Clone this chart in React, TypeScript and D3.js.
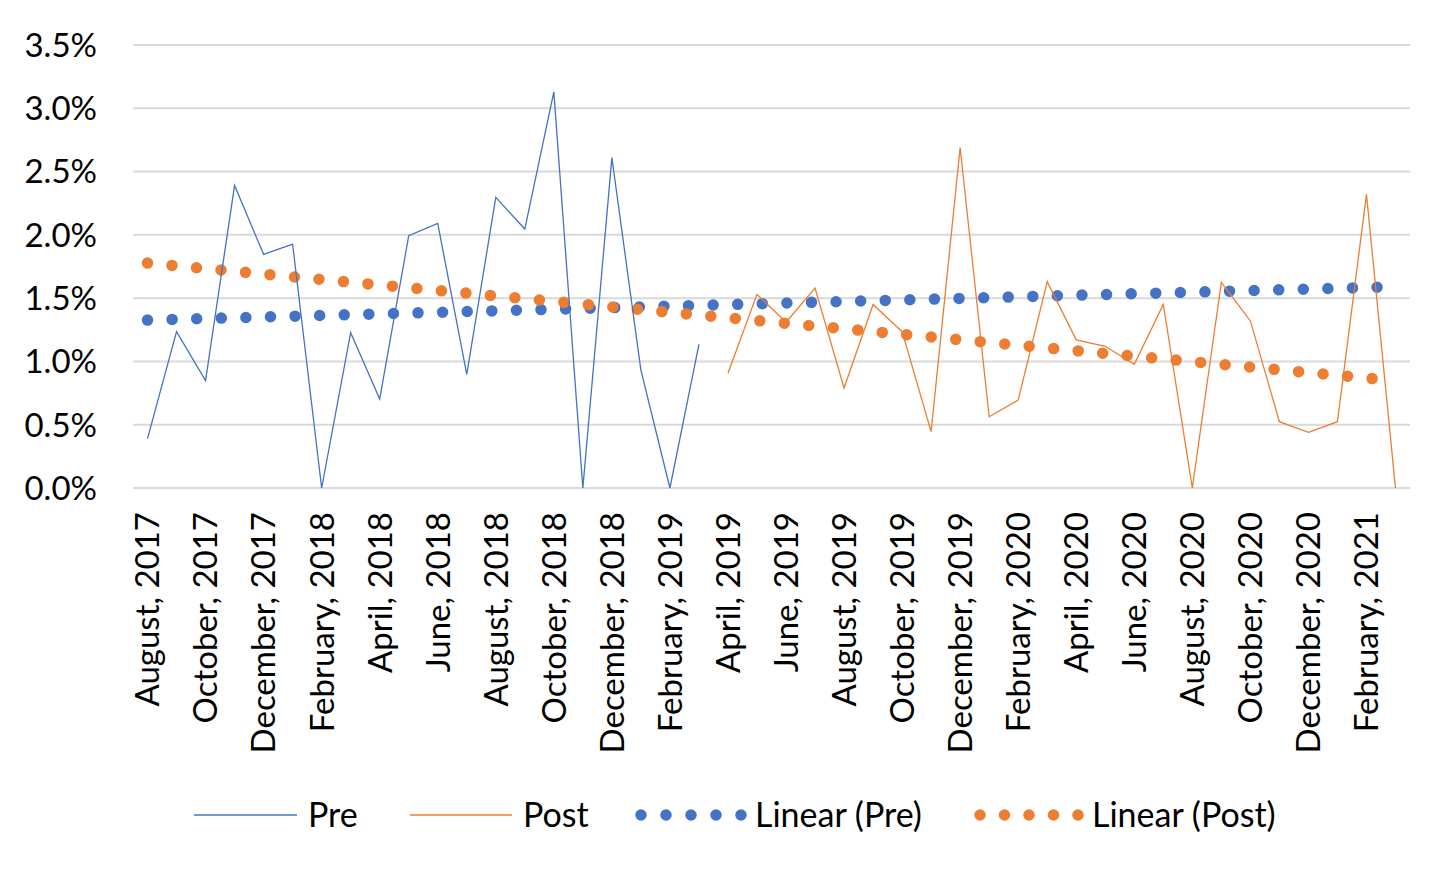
import { useEffect, useRef } from "react";
import * as d3 from "d3";

const months = [
  "August, 2017", "September, 2017", "October, 2017", "November, 2017", "December, 2017",
  "January, 2018", "February, 2018", "March, 2018", "April, 2018", "May, 2018", "June, 2018",
  "July, 2018", "August, 2018", "September, 2018", "October, 2018", "November, 2018",
  "December, 2018", "January, 2019", "February, 2019", "March, 2019", "April, 2019",
  "May, 2019", "June, 2019", "July, 2019", "August, 2019", "September, 2019", "October, 2019",
  "November, 2019", "December, 2019", "January, 2020", "February, 2020", "March, 2020",
  "April, 2020", "May, 2020", "June, 2020", "July, 2020", "August, 2020", "September, 2020",
  "October, 2020", "November, 2020", "December, 2020", "January, 2021", "February, 2021",
  "March, 2021",
];

// Pre: August 2017 - March 2019 (percent)
const preValues = [
  0.39, 1.235, 0.848, 2.39, 1.846, 1.927, 0, 1.227, 0.703, 1.993,
  2.09, 0.898, 2.296, 2.046, 3.13, 0, 2.61, 0.932, 0, 1.135,
];

// Post: April 2019 - March 2021 (percent)
const postValues = [
  0.906, 1.53, 1.31, 1.58, 0.79, 1.45, 1.235, 0.445, 2.69, 0.563, 0.695, 1.63,
  1.17, 1.12, 0.977, 1.45, 0, 1.625, 1.32, 0.524, 0.44, 0.524, 2.32, 0,
];
const postStart = 20;

const yTicks = [0, 0.5, 1, 1.5, 2, 2.5, 3, 3.5];

const BLUE = "#4472C4";
const ORANGE = "#ED7D31";
const FONT = "Lato, 'Noto Sans', sans-serif";

// least squares fit on category index, like Excel's linear trendline
const fit = (vals: number[], offset: number) => {
  const xs = vals.map((_, i) => i + offset);
  const mx = d3.mean(xs) as number;
  const my = d3.mean(vals) as number;
  const sxy = d3.sum(xs, (x, i) => (x - mx) * (vals[i] - my));
  const sxx = d3.sum(xs, (x) => (x - mx) ** 2);
  const slope = sxy / sxx;
  return (i: number) => my + slope * (i - mx);
};

const App = () => {
  const svgRef = useRef<SVGSVGElement | null>(null);

  useEffect(() => {
    if (!svgRef.current) return;
    const svg = d3.select(svgRef.current);
    svg.selectAll("*").remove();

    const left = 133, right = 1410, top = 45, bottom = 488;

    const x = d3.scaleBand<number>()
      .domain(months.map((_, i) => i))
      .range([left, right]);
    const cx = (i: number) => (x(i) as number) + x.bandwidth() / 2;

    const y = d3.scaleLinear().domain([0, 3.5]).range([bottom, top]);

    // gridlines
    svg.append("g")
      .selectAll("line")
      .data(yTicks)
      .join("line")
      .attr("x1", left)
      .attr("x2", right)
      .attr("y1", (d) => y(d))
      .attr("y2", (d) => y(d))
      .attr("stroke", "#d9d9d9")
      .attr("stroke-width", 2);

    // y labels
    svg.append("g")
      .selectAll("text")
      .data(yTicks)
      .join("text")
      .attr("x", 97)
      .attr("y", (d) => y(d))
      .attr("dy", "0.36em")
      .attr("text-anchor", "end")
      .attr("font-family", FONT)
      .attr("font-size", 33)
      .attr("fill", "#000")
      .text((d) => d.toFixed(1) + "%");

    // x labels, every second month
    svg.append("g")
      .selectAll("text")
      .data(months.map((m, i) => ({ m, i })).filter((d) => d.i % 2 === 0))
      .join("text")
      .attr("transform", (d) => `translate(${cx(d.i)},512) rotate(-90)`)
      .attr("dy", "0.36em")
      .attr("text-anchor", "end")
      .attr("font-family", FONT)
      .attr("font-size", 33)
      .attr("fill", "#000")
      .text((d) => d.m);

    // trendlines
    const trends = [
      { f: fit(preValues, 0), color: BLUE },
      { f: fit(postValues, postStart), color: ORANGE },
    ];
    const n = months.length;
    trends.forEach((t) => {
      svg.append("line")
        .attr("x1", cx(0))
        .attr("y1", y(t.f(0)))
        .attr("x2", cx(n - 1))
        .attr("y2", y(t.f(n - 1)))
        .attr("stroke", t.color)
        .attr("stroke-width", 11.5)
        .attr("stroke-linecap", "round")
        .attr("stroke-dasharray", "0 24.6");
    });

    // data lines
    const line = d3.line<number>()
      .x((_, i) => cx(i))
      .y((d) => y(d));
    svg.append("path")
      .datum(preValues)
      .attr("d", line)
      .attr("fill", "none")
      .attr("stroke", BLUE)
      .attr("stroke-width", 1.3);

    const linePost = d3.line<number>()
      .x((_, i) => cx(i + postStart))
      .y((d) => y(d));
    svg.append("path")
      .datum(postValues)
      .attr("d", linePost)
      .attr("fill", "none")
      .attr("stroke", ORANGE)
      .attr("stroke-width", 1.3);

    // legend
    const ly = 815;
    const legend = [
      { label: "Pre", color: BLUE, x0: 194, x1: 297, dots: false },
      { label: "Post", color: ORANGE, x0: 410, x1: 512, dots: false },
      { label: "Linear (Pre)", color: BLUE, x0: 641, x1: 741, dots: true },
      { label: "Linear (Post)", color: ORANGE, x0: 980, x1: 1078, dots: true },
    ];
    const lg = svg.append("g");
    legend.forEach((d) => {
      if (d.dots) {
        lg.selectAll(null)
          .data(d3.range(5))
          .join("circle")
          .attr("cx", (k) => d.x0 + (k * (d.x1 - d.x0)) / 4)
          .attr("cy", ly)
          .attr("r", 5.75)
          .attr("fill", d.color);
      } else {
        lg.append("line")
          .attr("x1", d.x0)
          .attr("x2", d.x1)
          .attr("y1", ly)
          .attr("y2", ly)
          .attr("stroke", d.color)
          .attr("stroke-width", 1.3);
      }
      lg.append("text")
        .attr("x", d.x1 + (d.dots ? 14 : 11))
        .attr("y", ly)
        .attr("dy", "0.36em")
        .attr("font-family", FONT)
        .attr("font-size", 34)
        .attr("fill", "#000")
        .text(d.label);
    });
  }, []);

  return (
    <svg
      ref={svgRef}
      width={1456}
      height={874}
      style={{ position: "absolute", left: 0, top: 0, background: "#fff" }}
    />
  );
};

export default App;
